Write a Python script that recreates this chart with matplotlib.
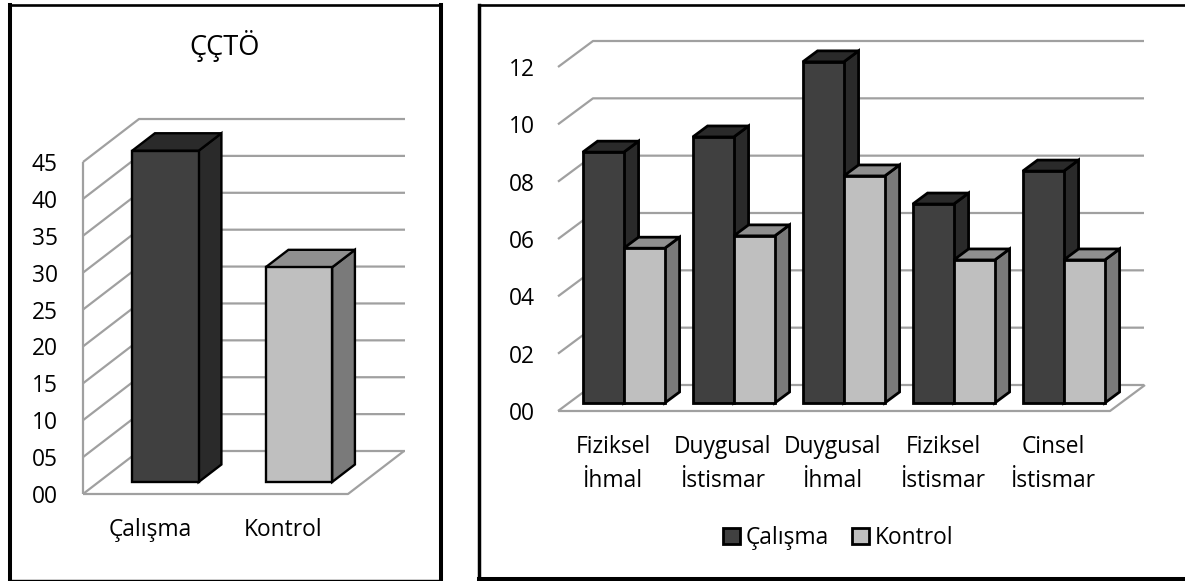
import matplotlib
matplotlib.use("Agg")
import matplotlib.pyplot as plt
from matplotlib.patches import Polygon, Rectangle

plt.rcParams['font.family'] = ['Open Sans', 'DejaVu Sans']

W, H = 1185, 581

# Data
left_title = "ÇÇTÖ"
left_categories = ["Çalışma", "Kontrol"]
left_values = [44.9, 29.1]
left_ticks = [0, 5, 10, 15, 20, 25, 30, 35, 40, 45]

right_categories = ["Fiziksel\nİhmal", "Duygusal\nİstismar", "Duygusal\nİhmal",
                    "Fiziksel\nİstismar", "Cinsel\nİstismar"]
calisma = [8.75, 9.28, 11.9, 6.94, 8.09]
kontrol = [5.4, 5.83, 7.92, 4.99, 4.99]
right_ticks = [0, 2, 4, 6, 8, 10, 12]
series_names = ["Çalışma", "Kontrol"]

DARK = dict(front="#404040", side="#2a2a2a", top="#2a2a2a")
LIGHT = dict(front="#bfbfbf", side="#7a7a7a", top="#8f8f8f")
GRID = "#a0a0a0"


def make_axes(fig, x0, x1, y_bottom, y_top, xlim, ylim):
    ax = fig.add_axes([x0 / W, 1 - y_bottom / H, (x1 - x0) / W, (y_bottom - y_top) / H])
    ax.set_xlim(*xlim)
    ax.set_ylim(*ylim)
    ax.patch.set_alpha(0)
    for s in ax.spines.values():
        s.set_visible(False)
    return ax


def draw_bar(ax, xl, xr, val, d0, d1, DX, DY, col, z, lw):
    x0, y0 = xl + d0 * DX, d0 * DY
    x1 = xr + d0 * DX
    top = val + d0 * DY
    sx, sy = (d1 - d0) * DX, (d1 - d0) * DY
    kw = dict(edgecolor="black", linewidth=lw, joinstyle="miter", zorder=z, clip_on=False)
    ax.add_patch(Polygon([(x1, y0), (x1 + sx, y0 + sy), (x1 + sx, top + sy), (x1, top)], facecolor=col["side"], **kw))
    ax.add_patch(Polygon([(x0, top), (x1, top), (x1 + sx, top + sy), (x0 + sx, top + sy)], facecolor=col["top"], **kw))
    ax.add_patch(Polygon([(x0, y0), (x1, y0), (x1, top), (x0, top)], facecolor=col["front"], **kw))


def draw_walls(ax, ticks, xl, xr, xback, DX, DY, vertical):
    gk = dict(color=GRID, lw=1.6, zorder=1, clip_on=False, solid_capstyle="butt")
    for t in ticks:
        ax.plot([xl, xl + DX, xback], [t, t + DY, t + DY], **gk)
    ax.plot([xl, xr, xr + DX], [0, 0, DY], **gk)
    if vertical:
        ax.plot([xl, xl], [ticks[0], ticks[-1]], **gk)


def label_axes(ax, ticks, ytlabels, pad, size):
    ax.set_yticks(ticks)
    ax.set_yticklabels(ytlabels, fontsize=size, color="black")
    ax.tick_params(axis="y", length=0, pad=pad)
    ax.tick_params(axis="x", length=0)


fig = plt.figure(figsize=(W / 100, H / 100), dpi=100, facecolor="white")

# frames
bg = fig.add_axes([0, 0, 1, 1])
bg.set_xlim(0, W)
bg.set_ylim(H, 0)
bg.axis("off")
fk = dict(color="black", solid_capstyle="projecting")
bg.plot([10, 441], [5.2, 5.2], lw=1.9, **fk)
bg.plot([10, 10], [5.2, 579.5], lw=2.9, **fk)
bg.plot([441, 441], [5.2, 579.5], lw=2.9, **fk)
bg.plot([10, 441], [579.5, 579.5], lw=1.0, **fk)
bg.plot([479, 1185], [5.2, 5.2], lw=1.9, **fk)
bg.plot([479, 479], [5.2, 579], lw=2.5, **fk)
bg.plot([479, 1185], [579, 579], lw=2.9, **fk)

# left chart
axL = make_axes(fig, 83, 350, 494, 162, (-0.5, 1.5), (0, 45))
spL = 133.5
DXL = 56 / spL
DYL = 43 / 7.38
draw_walls(axL, left_ticks, -0.5, 1.5 - 2 / spL, 1.5 + (405 - 350) / spL, DXL, DYL, True)
dL0, dL1 = 12 / 43, 29.5 / 43
bwL = 66.5 / spL / 2
for i, v in enumerate(left_values):
    col = DARK if i == 0 else LIGHT
    draw_bar(axL, i - bwL, i + bwL, v, dL0, dL1, DXL, DYL, col, 3 + i, 1.7)
label_axes(axL, left_ticks, [f"{t:02d}" for t in left_ticks], 18, 16.4)
axL.set_xticks(range(len(left_categories)))
axL.set_xticklabels(left_categories, fontsize=16.4, color="black")
axL.tick_params(axis="x", pad=17.5)
fig.text(225 / W, 1 - 46 / H, left_title, fontsize=19.6, ha="center", va="center", color="black")

# right chart
spR = 110.0
axR = make_axes(fig, 558, 1108, 411, 67, (-0.5, 4.5), (0, 12))
DXR = 35 / spR
DYR = 26 / 28.67
draw_walls(axR, right_ticks, -0.5, 4.5 + 2 / spR, 4.5 + (1144 - 1108) / spR, DXR, DYR, False)
dR0, dR1 = 8 / 26, 19 / 26
bw = 41 / spR
z = 3
for i, (a, b) in enumerate(zip(calisma, kontrol)):
    draw_bar(axR, i - bw, i, a, dR0, dR1, DXR, DYR, DARK, z, 2.0)
    draw_bar(axR, i, i + bw, b, dR0, dR1, DXR, DYR, LIGHT, z + 1, 2.0)
    z += 2
label_axes(axR, right_ticks, [f"{t:02d}" for t in right_ticks], 16.5, 16.4)
axR.set_xticks(range(len(right_categories)))
axR.set_xticklabels(right_categories, fontsize=16.4, color="black", linespacing=1.55)
axR.tick_params(axis="x", pad=17)

handles = [Rectangle((0, 0), 1, 1, facecolor=DARK["front"], edgecolor="black", lw=2.0),
           Rectangle((0, 0), 1, 1, facecolor=LIGHT["front"], edgecolor="black", lw=2.0)]
fig.legend(handles, series_names, loc="center", bbox_to_anchor=(838 / W, 1 - 538 / H),
           ncol=2, frameon=False, fontsize=16.4, handlelength=0.75, handleheight=0.75,
           handletextpad=0.24, columnspacing=1.0, borderpad=0, labelcolor="black")

fig.savefig("out.png", dpi=100, facecolor="white")
